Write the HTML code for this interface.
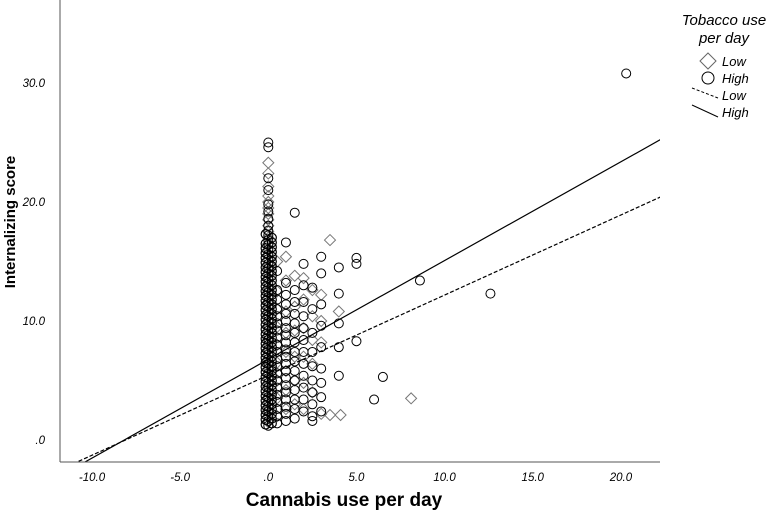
<!DOCTYPE html>
<html><head><meta charset="utf-8"><style>
body{margin:0;background:#fff;}
svg{display:block;font-family:"Liberation Sans",sans-serif;}
</style></head><body>
<svg id="chart" width="777" height="514" viewBox="0 0 777 514">
<g id="marks"></g>
<g id="axes"></g>
<g>
<text x="724" y="25" text-anchor="middle" font-size="15" font-style="italic">Tobacco use</text>
<text x="724" y="43" text-anchor="middle" font-size="15" font-style="italic">per day</text>
<path d="M708 53 L716 61 L708 69 L700 61 Z" fill="none" stroke="#666" stroke-width="1"/>
<circle cx="708" cy="78" r="6" fill="none" stroke="#000"/>
<text x="722" y="66" font-size="13" font-style="italic">Low</text>
<text x="722" y="83" font-size="13" font-style="italic">High</text>
<line x1="692" y1="88" x2="718" y2="98" stroke="#000" stroke-dasharray="3,2"/>
<line x1="692" y1="105" x2="718" y2="117" stroke="#000"/>
<text x="722" y="100" font-size="13" font-style="italic">Low</text>
<text x="722" y="117" font-size="13" font-style="italic">High</text>
</g>
</svg>
<script>
const xTicks=[-10,-5,0,5,10,15,20];
const xTickLabels=["-10.0","-5.0",".0","5.0","10.0","15.0","20.0"];
const yTicks=[0,10,20,30];
const yTickLabels=[".0","10.0","20.0","30.0"];
const lowFit=[5.45,0.673];
const highFit=[6.78,0.83];
const denseX=[0.2,0.2,0.2,0.2,0.2,0.2,0.2,0.2,0.2,0.2,0.2,0.2,0.2,0.2,0.2,0.2,0.2,0.2,0.2,0.2,0.2,0.2,0.2,0.2,0.2,0.2,0.2,0.2,0.2,0.2,0.2,0.2,0.2,0.2,0.2,0.2,0.2,0.2,0.2,0.2,
-0.15,-0.15,-0.15,-0.15,-0.15,-0.15,-0.15,-0.15,-0.15,-0.15,-0.15,-0.15,-0.15,-0.15,-0.15,-0.15,-0.15,-0.15,-0.15,-0.15,-0.15,-0.15,-0.15,-0.15,-0.15,-0.15,-0.15,-0.15,-0.15,-0.15,-0.15,-0.15,-0.15,-0.15,-0.15,-0.15,-0.15,-0.15,-0.15,-0.15];
const denseY=[1.4,1.8,2.2,2.6,3.0,3.4,3.8,4.2,4.6,5.0,5.4,5.8,6.2,6.6,7.0,7.4,7.8,8.2,8.6,9.0,9.4,9.8,10.2,10.6,11.0,11.4,11.8,12.2,12.6,13.0,13.4,13.8,14.2,14.6,15.0,15.4,15.8,16.2,16.6,17.0,
1.3,1.7,2.1,2.5,2.9,3.3,3.7,4.1,4.5,4.9,5.3,5.7,6.1,6.5,6.9,7.3,7.7,8.1,8.5,8.9,9.3,9.7,10.1,10.5,10.9,11.3,11.7,12.1,12.5,12.9,13.3,13.7,14.1,14.5,14.9,15.3,15.7,16.1,16.5,17.3];
const highX=[0,0,0,0,0,0,0,0,0,0,0,0,0,0,0,0,0,0,0,0,0,0,0,0,0,0,0,0,0,0,0,0,0,0,0,0,0,0,0,0,0,0,0,0,0,0,0,0,0,0,
0.5,0.5,0.5,0.5,0.5,0.5,0.5,0.5,0.5,0.5,0.5,0.5,0.5,0.5,0.5,0.5,0.5,0.5,0.5,0.5,
1,1,1,1,1,1,1,1,1,1,1,1,1,1,1,1,1,1,1,1,
1.5,1.5,1.5,1.5,1.5,1.5,1.5,1.5,1.5,1.5,1.5,1.5,1.5,1.5,1.5,
2,2,2,2,2,2,2,2,2,2,2,2,
2.5,2.5,2.5,2.5,2.5,2.5,2.5,2.5,2.5,2.5,
3,3,3,3,3,3,3,3,3,
4,4,4,4,4,5,5,5,6,6.5,8.6,12.6,20.3];
const highY=[1.2,1.6,2.0,2.4,2.8,3.2,3.6,4.0,4.4,4.8,5.2,5.6,6.0,6.4,6.8,7.2,7.6,8.0,8.4,8.8,9.2,9.6,10.0,10.4,10.8,11.2,11.6,12.0,12.4,12.8,13.2,13.6,14.0,14.4,14.8,15.2,15.6,16.0,16.4,16.8,17.2,17.6,18.0,18.6,19.2,19.8,21.0,22.0,24.6,25.0,
1.4,2.0,2.6,3.2,3.8,4.4,5.0,5.6,6.2,6.8,7.4,8.0,8.6,9.2,9.8,10.4,11.0,11.8,12.6,14.2,
1.6,2.2,2.8,3.4,4.0,4.6,5.2,5.8,6.4,7.0,7.6,8.2,8.8,9.4,10.0,10.6,11.4,12.2,13.2,16.6,
1.8,2.6,3.4,4.2,5.0,5.8,6.6,7.4,8.2,9.0,9.8,10.6,11.6,12.6,19.1,
2.4,3.4,4.4,5.4,6.4,7.4,8.4,9.4,10.4,11.6,13.0,14.8,
1.6,2.0,3.0,4.0,5.0,6.2,7.4,9.0,11.0,12.8,
2.4,3.6,4.8,6.0,7.8,9.6,11.4,14.0,15.4,
5.4,7.8,12.3,14.5,9.8,8.3,14.8,15.3,3.4,5.3,13.4,12.3,30.8];
const lowX=[0,0,0,0,0,0,0,0,0,0,0,0,0,0,0,0,0,0,0,0,0,0,0,0,0,0,0,
0.5,0.5,0.5,0.5,0.5,0.5,0.5,0.5,0.5,
1,1,1,1,1,1,1,1,
1.5,1.5,1.5,1.5,1.5,1.5,
2,2,2,2,2,2,
2.5,2.5,2.5,2.5,2.5,
3,3,3,3,3.5,3.5,4.1,4,8.1];
const lowY=[1.5,2.5,3.5,4.5,5.5,6.5,7.5,8.5,9.5,10.5,11.5,12.5,13.5,14.5,15.5,16.5,17.0,17.5,18.0,18.5,19.0,19.5,20.0,20.5,21.3,22.4,23.3,
2.0,3.5,5.0,6.5,8.0,9.5,11.0,12.5,15.0,
2.6,4.2,5.8,7.4,9.0,10.8,13.4,15.4,
3.0,5.0,7.0,9.2,11.2,13.8,
2.6,4.8,7.0,9.4,11.8,13.6,
4.0,6.4,8.4,10.4,12.6,
2.2,8.2,10.0,12.2,16.8,2.1,2.1,10.8,3.5];
const NS='http://www.w3.org/2000/svg';
const X0=60,X1=660,YB=462,YT=0;
function sx(v){return 268.3+v*17.63;}
function sy(v){return 440-v*11.9;}
function mk(tag,attrs,parent){const e=document.createElementNS(NS,tag);for(const k in attrs)e.setAttribute(k,attrs[k]);parent.appendChild(e);return e;}
const marks=document.getElementById('marks');
const axes=document.getElementById('axes');
const defs=mk('defs',{},document.getElementById('chart'));
const cp=mk('clipPath',{id:'pc'},defs);
mk('rect',{x:X0,y:YT,width:X1-X0,height:YB-YT},cp);
marks.setAttribute('clip-path','url(#pc)');
for(let i=0;i<lowX.length;i++){
  const cx=sx(lowX[i]),cy=sy(lowY[i]);
  const d=mk('path',{d:`M${cx} ${cy-5.5} L${cx+5.5} ${cy} L${cx} ${cy+5.5} L${cx-5.5} ${cy} Z`,fill:'none',stroke:'#777','stroke-width':1},marks);
  
  
}
for(let i=0;i<highX.length;i++){
  const c=mk('circle',{cx:sx(highX[i]),cy:sy(highY[i]),r:4.5,fill:'none',stroke:'#000','stroke-width':1},marks);
  
  
}
for(let i=0;i<denseX.length;i++){
  const c=mk('circle',{cx:sx(denseX[i]),cy:sy(denseY[i]),r:4.5,fill:'none',stroke:'#000','stroke-width':1.2},marks);
  
  
}
function fitLine(f,dash,name){
  const xa=-12,xb=23;
  const l=mk('line',{x1:sx(xa),y1:sy(f[0]+f[1]*xa),x2:sx(xb),y2:sy(f[0]+f[1]*xb),stroke:'#000','stroke-width':1.2},marks);
  if(dash)l.setAttribute('stroke-dasharray','4,2');
  
  
}
fitLine(lowFit,true,'fit-line-low');
fitLine(highFit,false,'fit-line-high');
const ya=mk('line',{x1:X0,y1:0,x2:X0,y2:YB,stroke:'#555','stroke-width':1},axes);


const xa=mk('line',{x1:X0,y1:YB,x2:X1,y2:YB,stroke:'#555','stroke-width':1},axes);


xTicks.forEach((v,i)=>{
  const t=mk('text',{x:sx(v),y:481,'text-anchor':'middle','font-size':11.5,'font-style':'italic'},axes);
  t.textContent=xTickLabels[i];
  
  
});
yTicks.forEach((v,i)=>{
  const t=mk('text',{x:45,y:sy(v)+4,'text-anchor':'end','font-size':11.5,'font-style':'italic'},axes);
  t.textContent=yTickLabels[i];
  
  
});
const xt=mk('text',{x:344,y:506,'text-anchor':'middle','font-size':19,'font-weight':'bold'},axes);
xt.textContent='Cannabis use per day';


const yt=mk('text',{x:0,y:0,'text-anchor':'middle','font-size':15,'font-weight':'bold',transform:'translate(15,222) rotate(-90)'},axes);
yt.textContent='Internalizing score';


</script>
</body></html>
